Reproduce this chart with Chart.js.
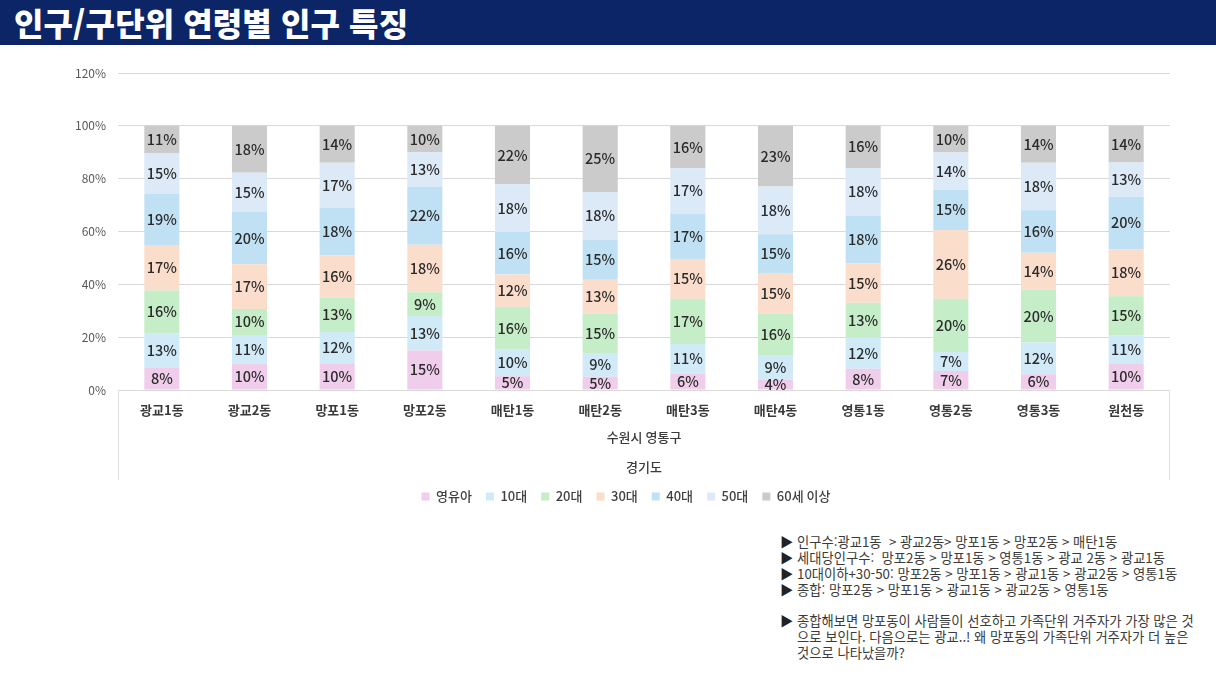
<!DOCTYPE html>
<html lang="ko">
<head>
<meta charset="utf-8">
<title>인구/구단위 연령별 인구 특징</title>
<script src="https://cdn.jsdelivr.net/npm/chart.js@4.4.1/dist/chart.umd.min.js"></script>
<style>
  body { margin: 0; width: 1216px; height: 684px; background: #fff; position: relative; overflow: hidden;
         font-family: "Noto Sans CJK KR", "Noto Sans", sans-serif; }
  .title { position: absolute; left: 0; top: 0; width: 1216px; height: 45px; background: #0b2566;
           color: #fff; font-size: 32px; font-weight: 900; line-height: 44px; padding-left: 14px; box-sizing: border-box;
           letter-spacing: 0.1px; }
  .chart-box { position: absolute; left: 0; top: 45px; width: 1216px; height: 474px; }
  .notes { position: absolute; left: 780px; top: 534px; width: 436px; font-size: 13.3px; line-height: 16px; color: #3a3a3a;
           white-space: nowrap; }
  .notes p { margin: 0; padding-left: 17px; text-indent: -17px; }
  .notes .gap { height: 15px; }
  .notes b { color: #222; font-weight: normal; display: inline-block; width: 17px; text-indent: 0; }
</style>
</head>
<body>
<div class="title">인구/구단위 연령별 인구 특징</div>
<div class="chart-box"><canvas id="ageChart"></canvas></div>
<div class="notes">
  <p><b>▶</b>인구수:광교1동 &nbsp;&gt; 광교2동&gt; 망포1동 &gt; 망포2동 &gt; 매탄1동</p>
  <p><b>▶</b>세대당인구수: &nbsp;망포2동 &gt; 망포1동 &gt; 영통1동 &gt; 광교 2동 &gt; 광교1동</p>
  <p><b>▶</b>10대이하+30-50: 망포2동 &gt; 망포1동 &gt; 광교1동 &gt; 광교2동 &gt; 영통1동</p>
  <p><b>▶</b>종합: 망포2동 &gt; 망포1동 &gt; 광교1동 &gt; 광교2동 &gt; 영통1동</p>
  <div class="gap"></div>
  <p><b>▶</b>종합해보면 망포동이 사람들이 선호하고 가족단위 거주자가 가장 많은 것<br>으로 보인다. 다음으로는 광교..! 왜 망포동의 가족단위 거주자가 더 높은<br>것으로 나타났을까?</p>
</div>
<script>
document.addEventListener("DOMContentLoaded", function () {
    const ctx = document.getElementById("ageChart").getContext("2d");

    // categories and series (percent of population per dong, labels show rounded values)
    const dongs = ["광교1동", "광교2동", "망포1동", "망포2동", "매탄1동", "매탄2동",
                   "매탄3동", "매탄4동", "영통1동", "영통2동", "영통3동", "원천동"];
    const groupLabels = ["수원시 영통구", "경기도"];
    const yTicks = [0, 20, 40, 60, 80, 100, 120];

    const infant = [8.3, 9.9, 10, 15, 5.2, 5, 6.2, 4, 8, 7.2, 6, 9.8];
    const teens = [13.2, 10.9, 12, 13, 10.2, 9, 11.2, 9, 12, 7.2, 12, 10.9];
    const twenties = [16.2, 9.9, 13, 9, 16.1, 15, 17.1, 16, 13, 20.1, 20, 14.8];
    const thirties = [17.2, 16.9, 16, 18, 12.2, 13, 15.1, 15, 15, 26.1, 14, 17.8];
    const forties = [19.3, 19.8, 18, 22, 16.1, 15, 17.2, 15, 18, 15.2, 16, 19.9];
    const fifties = [15.3, 14.8, 17, 13, 18.1, 18, 17.1, 18, 18, 14.1, 18, 12.9];
    const sixtyPlus = [10.5, 17.8, 14, 10, 22.1, 25, 16.1, 23, 16, 10.1, 14, 13.9];

    const seriesNames = ["영유아", "10대", "20대", "30대", "40대", "50대", "60세 이상"];
    const seriesData = [infant, teens, twenties, thirties, forties, fifties, sixtyPlus];
    const seriesColors = ["#efcdeb", "#d0eaf8", "#c5edc7", "#fbddcb", "#bfe1f3", "#dce9f7", "#cbcbcb"];

    const fontFamily = '"Noto Sans CJK KR", "Noto Sans", sans-serif';

    // value labels inside each segment
    const segmentLabels = {
        id: "segmentLabels",
        afterDatasetsDraw(chart) {
            const c = chart.ctx;
            c.save();
            c.font = "500 14.5px " + fontFamily;
            c.fillStyle = "#2b2b2b";
            c.textAlign = "center";
            c.textBaseline = "middle";
            chart.data.datasets.forEach((ds, i) => {
                chart.getDatasetMeta(i).data.forEach((bar, j) => {
                    c.fillText(Math.round(ds.data[j]) + "%", bar.x, (bar.y + bar.base) / 2);
                });
            });
            c.restore();
        }
    };

    // multi-level category box under the axis, legend nudged under the plot centre
    const groupAxis = {
        id: "groupAxis",
        afterLayout(chart) {
            chart.legend.left += 21;
            chart.legend.right += 21;
        },
        afterDraw(chart) {
            const c = chart.ctx;
            const x = chart.scales.x;
            const top = chart.chartArea.bottom;
            const bottom = x.bottom + 4;
            const mid = (chart.chartArea.left + chart.chartArea.right) / 2;
            c.save();
            c.strokeStyle = "#e0e0e0";
            c.lineWidth = 1;
            c.beginPath();
            c.moveTo(chart.chartArea.left + 0.5, top);
            c.lineTo(chart.chartArea.left + 0.5, bottom);
            c.moveTo(chart.chartArea.right - 0.5, top);
            c.lineTo(chart.chartArea.right - 0.5, bottom);
            c.stroke();
            c.font = "500 13px " + fontFamily;
            c.fillStyle = "#3a3a3a";
            c.textAlign = "center";
            c.textBaseline = "middle";
            c.fillText(groupLabels[0], mid, top + 47);
            c.fillText(groupLabels[1], mid, top + 77);
            c.restore();
        }
    };

    new Chart(ctx, {
        type: "bar",
        data: {
            labels: dongs,
            datasets: seriesNames.map((name, i) => ({
                label: name,
                data: seriesData[i],
                backgroundColor: seriesColors[i],
                borderWidth: 0,
                barPercentage: 0.4,
                categoryPercentage: 1
            }))
        },
        options: {
            responsive: true,
            maintainAspectRatio: false,
            animation: false,
            layout: { padding: { left: 40, right: 46, top: 28, bottom: 6 } },
            plugins: {
                tooltip: { enabled: false },
                legend: {
                    position: "bottom",
                    labels: {
                        boxWidth: 8,
                        boxHeight: 8,
                        padding: 14,
                        color: "#404040",
                        font: { family: fontFamily, size: 13, weight: "500" }
                    }
                }
            },
            scales: {
                x: {
                    stacked: true,
                    grid: { display: false },
                    border: { display: false },
                    ticks: { color: "#3a3a3a", padding: 4, font: { family: fontFamily, size: 13, weight: "bold" } },
                    afterFit: (scale) => { scale.height = 86; }
                },
                y: {
                    stacked: true,
                    min: yTicks[0],
                    max: yTicks[yTicks.length - 1],
                    afterBuildTicks: (scale) => { scale.ticks = yTicks.map(v => ({ value: v })); },
                    grid: { color: "#d9d9d9", drawTicks: false },
                    border: { display: false },
                    ticks: {
                        padding: 12,
                        color: "#595959",
                        font: { family: fontFamily, size: 12 },
                        callback: (v) => v + "%"
                    },
                    afterFit: (scale) => { scale.width = 78; }
                }
            }
        },
        plugins: [segmentLabels, groupAxis]
    });
});
</script>
</body>
</html>
